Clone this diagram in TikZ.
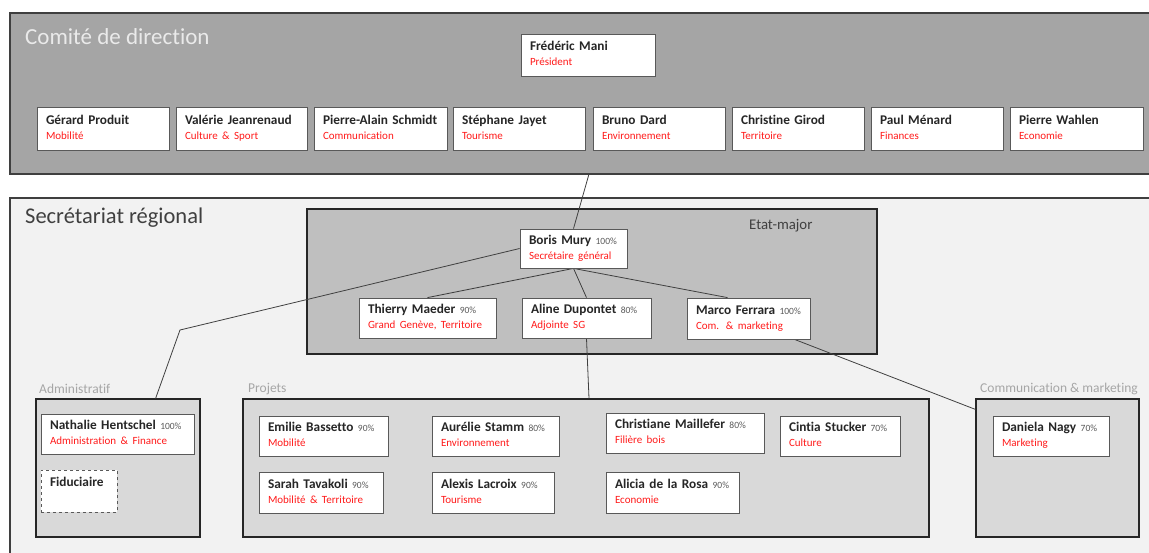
\documentclass[tikz,border=0pt]{standalone}
\usepackage{fontspec}
\setmainfont{Carlito}[Ligatures=NoCommon]
\usetikzlibrary{calc}
\pgfdeclarelayer{back}
\pgfdeclarelayer{mid}
\pgfsetlayers{back,mid,main}
\definecolor{bandfill}{HTML}{A5A5A5}
\definecolor{bandline}{HTML}{3F3F3F}
\definecolor{secfill}{HTML}{F2F2F2}
\definecolor{emfill}{HTML}{BFBFBF}
\definecolor{subfill}{HTML}{D9D9D9}
\definecolor{boxline}{HTML}{595959}
\definecolor{rolered}{HTML}{FF1A1A}
\definecolor{pctgray}{HTML}{595959}
\definecolor{lblgray}{HTML}{A6A6A6}
\definecolor{darktxt}{HTML}{404040}
\definecolor{titlelight}{HTML}{EAEAEA}
\definecolor{connline}{HTML}{404040}
\definecolor{nametxt}{HTML}{262626}
\tikzset{
  person/.style={draw=boxline, fill=white, line width=0.8pt, inner xsep=9pt, inner ysep=0pt,
    align=left, font=\fontsize{13.3}{15}\selectfont, text=nametxt},
  grpbox/.style={draw=bandline, line width=1.2pt, inner sep=0pt},
  conn/.style={draw=connline, line width=0.8pt},
  lbl/.style={anchor=west, inner sep=0pt, font=\fontsize{13.5}{15}\selectfont, text=lblgray},
}
\newcommand{\nm}[1]{\rule[-4.5pt]{0pt}{14.5pt}\textbf{#1}}
\newcommand{\rl}[1]{{\fontsize{11}{15}\selectfont\color{rolered}\rule[-4pt]{0pt}{10pt}#1}}
\newcommand{\pct}[1]{{\fontsize{9.5}{15}\selectfont\color{pctgray}#1}}
% person box: name, x1, y1, x2, y2, extra style, content
\newcommand{\pbox}[7]{%
  \pgfmathsetmacro\pbtw{#4-#2-18}%
  \pgfmathsetmacro\pbmh{#5-#3}%
  \node[person, text width=\pbtw pt, minimum height=\pbmh pt, #6] (#1) at ({(#2+#4)/2},{(#3+#5)/2}) {#7};}
% group box
\newcommand{\gbox}[6]{%
  \pgfmathsetmacro\gbw{#4-#2}%
  \pgfmathsetmacro\gbh{#5-#3}%
  \node[grpbox, minimum width=\gbw pt, minimum height=\gbh pt, #6] (#1) at ({(#2+#4)/2},{(#3+#5)/2}) {};}
\begin{document}
\begin{tikzpicture}[x=1pt, y=-1pt]
\useasboundingbox (0,0) rectangle (1149,552);
\begin{pgfonlayer}{back}
% group rectangles
\gbox{band}{10}{13}{1162}{174}{fill=bandfill}
\gbox{sec}{10}{198}{1162}{570}{fill=secfill}
\gbox{etat}{307}{209}{877}{354}{fill=emfill, draw=black!85}
\gbox{admin}{36}{399}{200}{537}{fill=subfill, draw=black!85}
\gbox{proj}{243}{399}{929}{537}{fill=subfill, draw=black!85}
\gbox{comm}{976}{399}{1139}{537}{fill=subfill, draw=black!85}
\end{pgfonlayer}
% titles
\node[anchor=west, inner sep=0pt, font=\fontsize{23}{25}\selectfont, text=titlelight] (t1) at (25,37) {Comité de direction};
\node[anchor=west, inner sep=0pt, font=\fontsize{22.5}{25}\selectfont, text=darktxt] (t2) at (25,218) {Secrétariat régional};
\node[anchor=west, inner sep=0pt, font=\fontsize{14.8}{16}\selectfont, text=darktxt] (t3) at (749,226) {Etat-major};
\node[lbl] (l1) at (39,389) {Administratif};
\node[lbl] (l2) at (248,389) {Projets};
\node[lbl] (l3) at (980,389) {Communication \& marketing};
% connector anchors
\coordinate (bandexit) at (589,174);
\coordinate (bend) at (180,330);
% Etat-major persons
\pbox{boris}{520}{229}{627}{268}{}{\nm{Boris Mury} \pct{100\%}\\\rl{Secrétaire général}}
\pbox{thierry}{359}{298}{496}{338}{}{\nm{Thierry Maeder} \pct{90\%}\\\rl{Grand Genève, Territoire}}
\pbox{aline}{522}{298}{651}{338}{}{\nm{Aline Dupontet} \pct{80\%}\\\rl{Adjointe SG}}
\pbox{marco}{687}{298}{810}{339}{}{\nm{Marco Ferrara} \pct{100\%}\\\rl{Com. \& marketing}}
% Comite de direction
\pbox{mani}{521}{34}{655}{76}{}{\nm{Frédéric Mani}\\\rl{Président}}
\pbox{produit}{37}{107}{169}{150}{}{\nm{Gérard Produit}\\\rl{Mobilité}}
\pbox{jeanrenaud}{176}{107}{307}{150}{}{\nm{Valérie Jeanrenaud}\\\rl{Culture \& Sport}}
\pbox{schmidt}{314}{107}{447}{150}{}{\nm{Pierre-Alain Schmidt}\\\rl{Communication}}
\pbox{jayet}{453}{107}{585}{150}{}{\nm{Stéphane Jayet}\\\rl{Tourisme}}
\pbox{dard}{593}{107}{725}{150}{}{\nm{Bruno Dard}\\\rl{Environnement}}
\pbox{girod}{732}{107}{864}{150}{}{\nm{Christine Girod}\\\rl{Territoire}}
\pbox{menard}{871}{107}{1003}{150}{}{\nm{Paul Ménard}\\\rl{Finances}}
\pbox{wahlen}{1010}{107}{1143}{150}{}{\nm{Pierre Wahlen}\\\rl{Economie}}
% Administratif
\pbox{hentschel}{41}{414}{194}{454}{}{\nm{Nathalie Hentschel} \pct{100\%}\\\rl{Administration \& Finance}}
\pbox{fiduciaire}{41}{470}{117}{512}{dashed, draw=boxline}{\nm{Fiduciaire}\\\rl{~}}
% Projets
\pbox{bassetto}{259}{416}{388}{456}{}{\nm{Emilie Bassetto} \pct{90\%}\\\rl{Mobilité}}
\pbox{stamm}{432}{416}{559}{456}{}{\nm{Aurélie Stamm} \pct{80\%}\\\rl{Environnement}}
\pbox{tavakoli}{259}{472}{383}{513}{}{\nm{Sarah Tavakoli} \pct{90\%}\\\rl{Mobilité \& Territoire}}
\pbox{lacroix}{432}{472}{554}{513}{}{\nm{Alexis Lacroix} \pct{90\%}\\\rl{Tourisme}}
\pbox{maillefer}{606}{413}{764}{453}{}{\nm{Christiane Maillefer} \pct{80\%}\\\rl{Filière bois}}
\pbox{stucker}{780}{416}{900}{456}{}{\nm{Cintia Stucker} \pct{70\%}\\\rl{Culture}}
\pbox{rosa}{606}{472}{739}{513}{}{\nm{Alicia de la Rosa} \pct{90\%}\\\rl{Economie}}
% Communication & marketing
\pbox{nagy}{993}{416}{1109}{456}{}{\nm{Daniela Nagy} \pct{70\%}\\\rl{Marketing}}
% connectors, drawn behind the person boxes
\begin{pgfonlayer}{mid}
\draw[conn] (bandexit) -- (boris.north);
\draw[conn] (boris.south) -- (thierry.north);
\draw[conn] (boris.south) -- (aline.north);
\draw[conn] (boris.south) -- ($(marco.north)+(-21,0)$);
\draw[conn] (boris.west) -- (bend) -- ($(admin.north east)+(-45,0)$);
\draw[conn] (aline.south) -- ($(proj.north)+(3,0)$);
\draw[conn] ($(marco.south)+(46,0)$) -- ($(comm.north west)+(0,11)$);
\end{pgfonlayer}
\end{tikzpicture}
\end{document}
